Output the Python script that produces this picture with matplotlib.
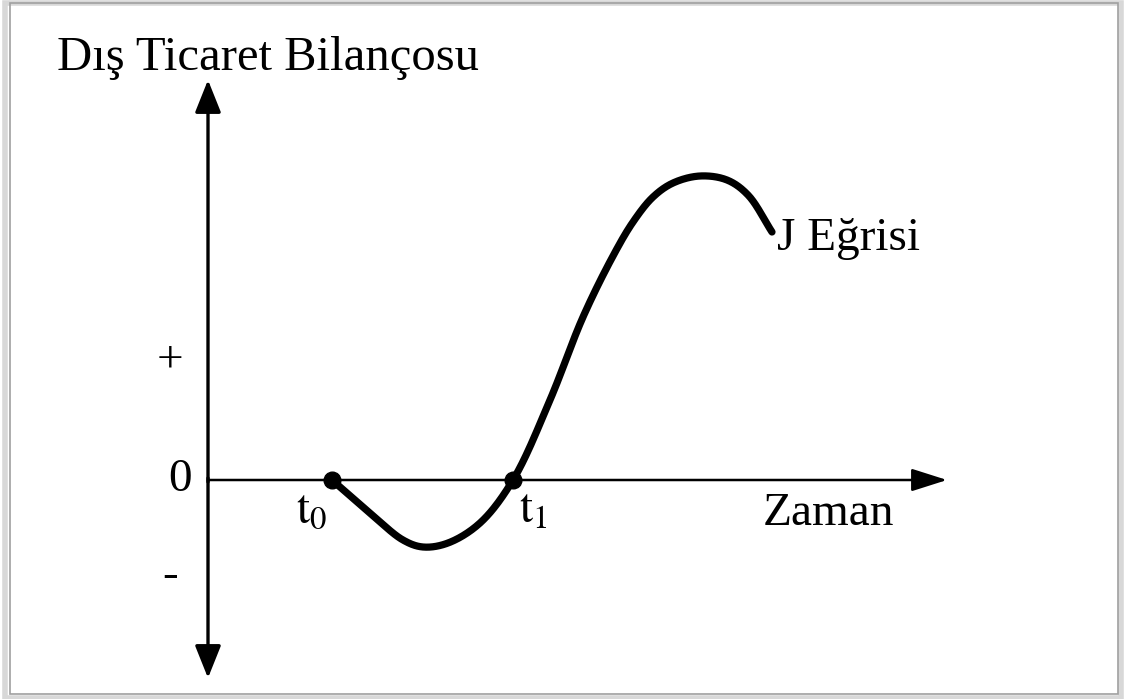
import matplotlib.pyplot as plt
from matplotlib.patches import Rectangle
import numpy as np

plt.rcParams['font.family'] = ['Liberation Serif', 'DejaVu Serif']
plt.rcParams['mathtext.fontset'] = 'stix'

# J curve (time, trade balance)
curve_x = [1.24, 1.62, 1.95, 2.15, 2.40, 2.72, 3.05,
           3.42, 3.75, 4.05, 4.25, 4.45, 4.65, 4.92, 5.19, 5.40, 5.64]
curve_y = [0.00, -0.33, -0.60, -0.67, -0.63, -0.43, 0.00,
           0.80, 1.63, 2.24, 2.58, 2.83, 2.97, 3.04, 3.00, 2.85, 2.48]

# points where the curve meets the time axis
cross_x = [1.24, 3.05]
cross_labels = [r'$\mathrm{t}_0$', r'$\mathrm{t}_1$']
cross_dx = [-0.20, 0.06]

sign_labels = ['+', '0', '-']
sign_x = [-0.38, -0.28, -0.38]
sign_y = [1.20, 0.00, -0.96]


def smooth(xs, ys, n=30, alpha=0.5):
    # centripetal Catmull-Rom so the thick stroke has no corners or loops
    p = np.column_stack([xs, ys]).astype(float)
    p = np.vstack([2 * p[0] - p[1], p, 2 * p[-1] - p[-2]])
    out = []
    for i in range(1, len(p) - 2):
        p0, p1, p2, p3 = p[i - 1], p[i], p[i + 1], p[i + 2]
        t0 = 0.0
        t1 = t0 + np.linalg.norm(p1 - p0) ** alpha
        t2 = t1 + np.linalg.norm(p2 - p1) ** alpha
        t3 = t2 + np.linalg.norm(p3 - p2) ** alpha
        for t in np.linspace(t1, t2, n, endpoint=False):
            a1 = (t1 - t) / (t1 - t0) * p0 + (t - t0) / (t1 - t0) * p1
            a2 = (t2 - t) / (t2 - t1) * p1 + (t - t1) / (t2 - t1) * p2
            a3 = (t3 - t) / (t3 - t2) * p2 + (t - t2) / (t3 - t2) * p3
            b1 = (t2 - t) / (t2 - t0) * a1 + (t - t0) / (t2 - t0) * a2
            b2 = (t3 - t) / (t3 - t1) * a2 + (t - t1) / (t3 - t1) * a3
            out.append((t2 - t) / (t2 - t1) * b1 + (t - t1) / (t2 - t1) * b2)
    out.append(p[-2])
    out = np.array(out)
    return out[:, 0], out[:, 1]


fig = plt.figure(figsize=(11.25, 6.99), dpi=100)
fig.patch.set_facecolor('white')

# soft gray frame around the figure
fig.patches.append(Rectangle((0.004, 0.002), 0.992, 0.994, transform=fig.transFigure,
                             fill=False, edgecolor='#d8d8d8', linewidth=4))
fig.patches.append(Rectangle((0.009, 0.007), 0.985, 0.988, transform=fig.transFigure,
                             fill=False, edgecolor='#a0a0a0', linewidth=1.2))

ax = fig.add_axes([0, 0, 1, 1])
ax.set_xlim(-2.08, 9.17)
ax.set_ylim(-2.19, 4.80)
ax.axis('off')

# axes with arrow heads
head = '-|>,head_length=2.0,head_width=0.8'
ax.annotate('', xy=(0, 4.00), xytext=(0, -0.02),
            arrowprops=dict(arrowstyle=head, color='black', lw=2.4, shrinkA=0, shrinkB=0))
ax.annotate('', xy=(0, -1.98), xytext=(0, 0.02),
            arrowprops=dict(arrowstyle=head, color='black', lw=2.4, shrinkA=0, shrinkB=0))
ax.annotate('', xy=(7.39, 0), xytext=(0, 0),
            arrowprops=dict(arrowstyle='-|>,head_length=2.2,head_width=0.7',
                            color='black', lw=1.8, shrinkA=0, shrinkB=0))

sx, sy = smooth(curve_x, curve_y)
ax.plot(sx, sy, color='black', lw=5.2, solid_capstyle='round', solid_joinstyle='round')
ax.plot(cross_x, [0, 0], 'o', color='black', markersize=12)

for x, lab, dx in zip(cross_x, cross_labels, cross_dx):
    ax.text(x + dx, -0.10, lab, fontsize=34, ha='center' if dx < 0 else 'left', va='top')

for lab, x, y in zip(sign_labels, sign_x, sign_y):
    ax.text(x, y, lab, fontsize=34, ha='center', va='center')

ax.text(-1.51, 4.10, 'Dış Ticaret Bilançosu', fontsize=35, ha='left', va='baseline')
ax.text(5.69, 2.30, 'J Eğrisi', fontsize=34, ha='left', va='baseline')
ax.text(5.55, -0.45, 'Zaman', fontsize=34, ha='left', va='baseline')

fig.savefig('out.png', dpi=100, facecolor='white')
